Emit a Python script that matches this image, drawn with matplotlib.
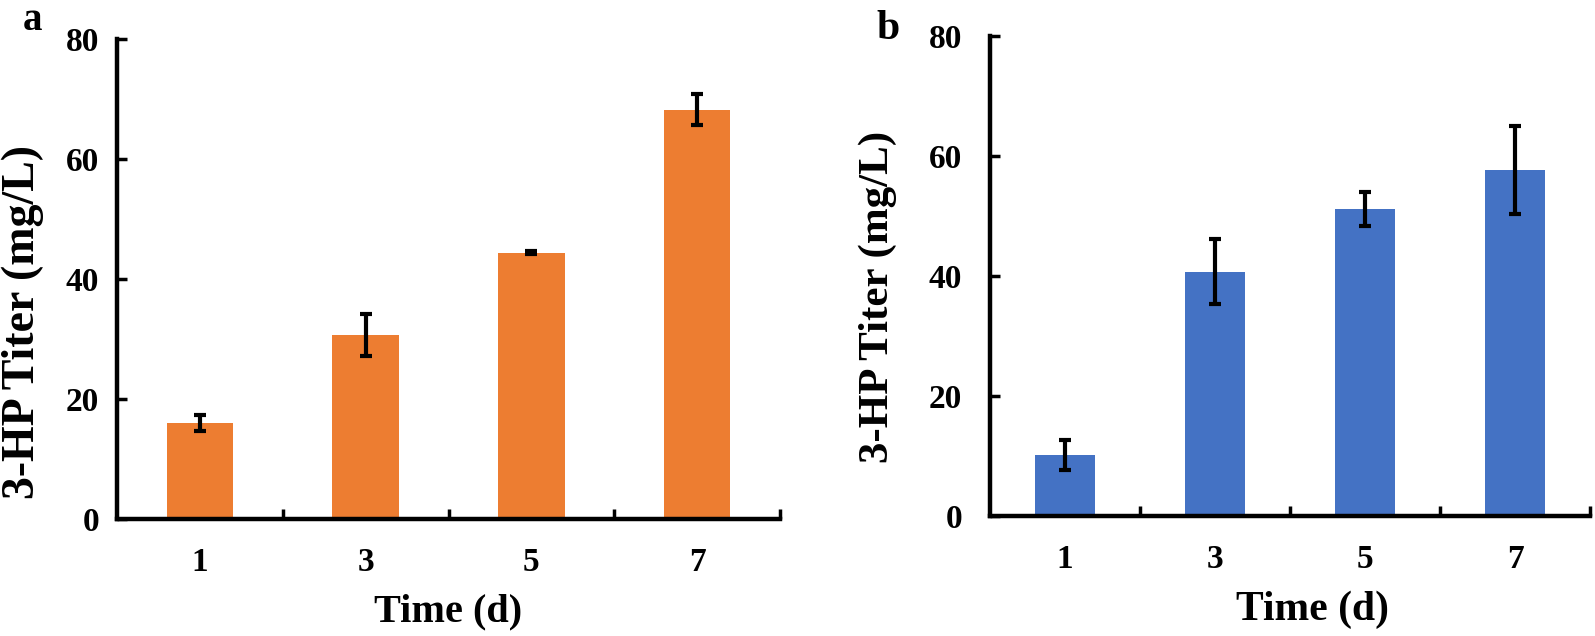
import matplotlib
matplotlib.use("Agg")
import matplotlib.pyplot as plt
from matplotlib.ticker import FixedLocator, NullFormatter, FixedFormatter

plt.rcParams['font.family'] = ['Liberation Serif', 'DejaVu Serif']
plt.rcParams['font.weight'] = 'bold'

days = ['1', '3', '5', '7']
titer_a = [16.0, 30.6, 44.4, 68.2]
err_a = [1.4, 3.5, 0.3, 2.6]
titer_b = [10.2, 40.7, 51.2, 57.7]
err_b = [2.5, 5.4, 2.8, 7.3]
color_a = '#ED7D31'
color_b = '#4472C4'
ylabel = '3-HP Titer (mg/L)'
xlabel = 'Time (d)'
yticks = [0, 20, 40, 60, 80]

W, H = 1595, 636
fig = plt.figure(figsize=(W / 100, H / 100), dpi=100)

def px_axes(l, r, t, b):
    return fig.add_axes([l / W, 1 - b / H, (r - l) / W, (b - t) / H])

ax_a = px_axes(117, 780, 39, 519)
ax_b = px_axes(990, 1590, 36, 516)

def style(ax, vals, errs, color, ypad, ylab_size, ylab_xy, xlab_size, xlab_x):
    x = list(range(len(vals)))
    ax.bar(x, vals, width=0.4, color=color, zorder=2)
    ax.errorbar(x, vals, yerr=errs, fmt='none', ecolor='black',
                elinewidth=3, capsize=4, capthick=3, zorder=3)
    ax.set_xlim(-0.5, len(vals) - 0.5)
    ax.set_ylim(0, 80)
    for s in ['top', 'right']:
        ax.spines[s].set_visible(False)
    for s in ['left', 'bottom']:
        ax.spines[s].set_linewidth(3.2)
        ax.spines[s].set_capstyle('projecting')
    ax.set_yticks(yticks)
    ax.set_yticklabels([str(v) for v in yticks])
    ax.tick_params(axis='y', direction='in', length=7, width=2.5,
                   labelsize=24, pad=ypad)
    ax.xaxis.set_major_locator(FixedLocator([i + 0.5 for i in x]))
    ax.xaxis.set_major_formatter(NullFormatter())
    ax.xaxis.set_minor_locator(FixedLocator(x))
    ax.xaxis.set_minor_formatter(FixedFormatter(days))
    ax.tick_params(axis='x', which='major', direction='in', length=7, width=2.5)
    ax.tick_params(axis='x', which='minor', length=0, labelsize=24, pad=20)
    ax.set_ylabel(ylabel, fontsize=ylab_size, fontweight='bold')
    ax.yaxis.set_label_coords(*ylab_xy)
    ax.set_xlabel(xlabel, fontsize=xlab_size, fontweight='bold', va='top')
    ax.xaxis.set_label_coords(xlab_x, -0.155)

style(ax_a, titer_a, err_a, color_a, 13, 33, (-0.11, 0.41), 29, 0.5)
style(ax_b, titer_b, err_b, color_b, 20, 31, (-0.155, 0.457), 30, 0.537)

fig.text(23 / W, 1 - 2 / H, 'a', fontsize=28, fontweight='bold', va='top')
fig.text(876 / W, 1 - 39 / H, 'b', fontsize=30, fontweight='bold', va='baseline')

fig.savefig('out.png', dpi=100)
